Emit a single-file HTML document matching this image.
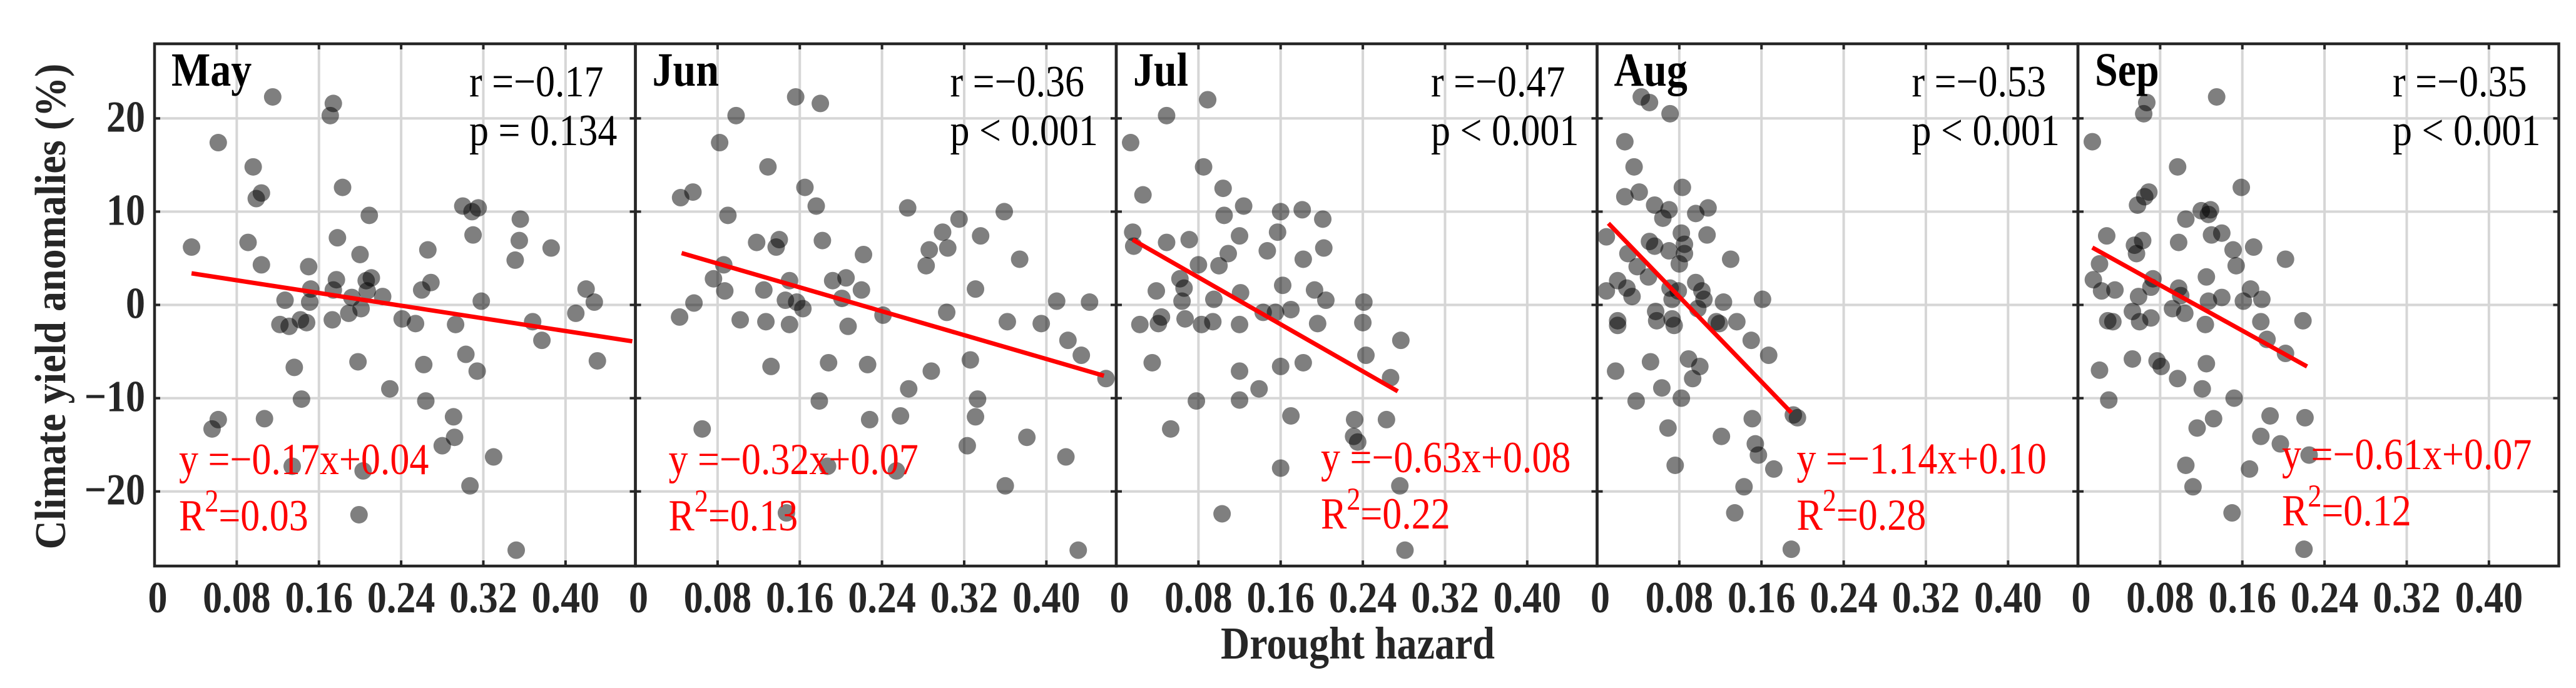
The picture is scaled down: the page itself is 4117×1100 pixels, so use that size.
<!DOCTYPE html>
<html><head><meta charset="utf-8"><style>
html,body{margin:0;padding:0;background:#fff;}
svg{display:block;font-family:"Liberation Serif","Times New Roman",serif;}
</style></head><body>
<svg id="chart" width="4117" height="1100" viewBox="0 0 4117 1100" xmlns="http://www.w3.org/2000/svg">
<rect width="4117" height="1100" fill="#fff"/>
<g id="grids"></g><g id="marks"></g><g id="frames"></g><g id="labels"></g>
<text x="0" y="0" transform="translate(104,490) rotate(-90) scale(1,1.1)" text-anchor="middle" font-weight="bold" font-size="64" fill="#262626">Climate yield anomalies (%)</text>
<text x="0" y="0" transform="translate(2170,1053) scale(1,1.15)" text-anchor="middle" font-weight="bold" font-size="64" fill="#262626">Drought hazard</text>
</svg>
<script>
const months = ["May","Jun","Jul","Aug","Sep"];
const rTexts = ["r =\u22120.17","r =\u22120.36","r =\u22120.47","r =\u22120.53","r =\u22120.35"];
const pTexts = ["p = 0.134","p < 0.001","p < 0.001","p < 0.001","p < 0.001"];
const slopes = [-0.17,-0.32,-0.63,-1.14,-0.61];
const intercepts = [0.04,0.07,0.08,0.10,0.07];
const r2Texts = ["0.03","0.13","0.22","0.28","0.12"];
const lineStart = [0.036,0.045,0.016,0.011,0.014];
const lineEnd = [0.465,0.456,0.274,0.189,0.223];
const xTicks = [0,0.08,0.16,0.24,0.32,0.40];
const xTickLabels = ["0","0.08","0.16","0.24","0.32","0.40"];
const yTicks = [-20,-10,0,10,20];
const yTickLabels = ["\u221220","\u221210","0","10","20"];

const mayX = [.036,.062,.056,.062,.096,.091,.099,.104,.104,.107,.115,.127,.122,.131,.136,.142,.148,.150,.152,.151,.143,.134,.171,.174,.183,.178,.177,.174,.173,.189,.192,.200,.209,.206,.211,.207,.201,.198,.203,.199,.222,.229,.241,.254,.260,.269,.266,.262,.264,.280,.292,.291,.293,.300,.309,.315,.310,.303,.314,.307,.318,.330,.351,.355,.356,.352,.368,.377,.386,.410,.420,.428,.431];
const mayY = [6.2,17.4,-13.3,-12.3,14.8,6.7,11.4,12,4.3,-12.2,22.3,0.5,-2.1,-2.3,-6.7,-1.6,-1.9,4.1,1.7,0.3,-10.1,-17.3,20.3,21.6,12.6,7.2,2.7,1.6,-1.6,-0.9,0.8,5.4,9.6,2.6,2.9,1.5,-0.4,-6.1,-17.8,-22.5,0.9,-9,-1.5,-2,1.6,2.4,5.9,-6.4,-10.3,-15.1,-14.2,-12,-2.1,10.6,10,10.4,7.5,-5.3,-7.1,-19.4,0.4,-16.3,4.8,6.9,9.2,-26.3,-1.8,-3.8,6.1,-0.9,1.7,0.3,-6];
const junX = [.044,.056,.043,.057,.065,.082,.098,.090,.076,.087,.086,.102,.118,.129,.125,.127,.132,.140,.137,.156,.150,.146,.150,.157,.163,.165,.176,.180,.182,.179,.188,.192,.201,.205,.207,.220,.222,.187,.147,.226,.228,.241,.254,.258,.265,.266,.283,.286,.288,.299,.304,.303,.315,.323,.326,.331,.331,.333,.336,.359,.360,.362,.374,.381,.395,.410,.419,.421,.434,.431,.442,.458];
const junY = [11.5,12.1,-1.3,0.2,-13.3,17.4,20.3,9.6,2.8,1.5,4.3,-1.6,6.7,14.8,1.6,-1.8,-6.6,7,6.2,22.3,2.6,0.5,-2.1,0.3,-0.4,12.6,10.6,21.6,6.9,-10.3,-6.2,2.6,0.7,2.9,-2.3,1.6,5.4,-17.3,-22.3,-6.4,-12.3,-1.1,-17.8,-11.9,10.4,-9,4.2,5.9,-7.1,7.8,6.1,-0.8,9.2,-15.1,-5.9,1.7,-12,-10.1,7.4,10,-19.4,-1.8,4.9,-14.2,-2,0.4,-16.3,-3.8,-5.4,-26.3,0.3,-7.9];
const julX = [.014,.026,.016,.017,.023,.035,.041,.044,.049,.039,.049,.053,.062,.066,.064,.067,.071,.078,.080,.083,.085,.089,.095,.094,.100,.104,.105,.109,.120,.121,.120,.120,.120,.124,.103,.139,.143,.147,.155,.157,.160,.162,.160,.170,.170,.160,.181,.182,.182,.193,.196,.201,.202,.204,.232,.231,.235,.241,.240,.243,.263,.267,.276,.277,.281];
const julY = [17.4,11.8,7.8,6.3,-2.1,-6.2,-2,-1.3,6.7,1.5,20.3,-13.3,2.8,1.8,0.4,-1.5,7,-10.3,4.3,-2.1,14.8,22,0.6,-1.8,4.2,12.5,9.6,5.5,7.4,1.3,-2.1,-7.1,-10.2,10.6,-22.4,-9,-0.8,5.8,-0.8,7.8,10,2.1,-6.6,-0.5,-11.9,-17.5,10.2,4.9,-6.2,1.6,-2,9.2,6.1,0.5,-12.3,-14.1,-14.7,0.3,-1.9,-5.4,-12.3,-7.8,-19.4,-3.8,-26.3];
const augX = [.043,.051,.071,.027,.036,.027,.041,.083,.056,.070,.064,.096,.108,.009,.082,.107,.051,.056,.070,.085,.085,.030,.080,.130,.039,.050,.009,.020,.029,.034,.071,.079,.073,.096,.102,.104,.098,.123,.161,.020,.020,.057,.058,.073,.075,.116,.119,.136,.150,.167,.052,.018,.089,.100,.093,.063,.082,.038,.069,.151,.191,.195,.121,.154,.157,.172,.076,.143,.134,.189];
const augY = [22.3,21.7,20.5,17.5,14.8,11.6,12.1,12.6,10.7,10.2,9.3,9.8,10.4,7.3,7.7,7.5,6.8,6.3,5.8,6.5,5.5,5.5,4.4,4.9,4.1,3,1.5,2.6,1.8,0.9,1.8,1.5,0.6,2.4,1.5,0.6,-0.4,0.3,0.6,-1.7,-2.2,-0.7,-1.7,-1.5,-2.2,-1.8,-2,-1.8,-3.8,-5.4,-6.1,-7.1,-5.8,-6.6,-7.9,-8.9,-10,-10.3,-13.2,-12.2,-11.8,-12.1,-14.1,-14.9,-16.1,-17.6,-17.2,-19.5,-22.3,-26.2];
const sepX = [.135,.067,.064,.014,.097,.159,.069,.065,.058,.120,.129,.127,.105,.028,.063,.055,.057,.098,.130,.140,.151,.171,.202,.154,.021,.015,.023,.036,.073,.071,.059,.098,.100,.125,.127,.140,.168,.161,.179,.053,.092,.104,.029,.034,.060,.071,.124,.178,.219,.184,.202,.021,.053,.077,.081,.097,.125,.121,.030,.152,.132,.116,.187,.221,.178,.197,.225,.105,.167,.112,.150,.220];
const sepY = [22.3,21.7,20.5,17.5,14.8,12.6,12.1,11.6,10.7,10.1,10.2,9.7,9.2,7.4,6.9,6.4,5.5,6.7,7.5,7.7,5.9,6.2,4.9,4.2,4.4,2.7,1.5,1.6,2.8,1.9,0.9,1.8,1,3,0.4,0.8,1.7,0.4,0.6,-0.7,-0.4,-0.9,-1.7,-1.8,-1.8,-1.4,-2.1,-1.8,-1.7,-3.7,-5.2,-7,-5.8,-6,-6.6,-7.9,-6.3,-9,-10.2,-10,-12.2,-13.2,-11.9,-12.1,-14.1,-14.9,-16.1,-17.2,-17.6,-19.5,-22.3,-26.2];
const seriesX = [mayX,junX,julX,augX,sepX];
const seriesY = [mayY,junY,julY,augY,sepY];

const NS="http://www.w3.org/2000/svg";
const P0=247, PW=768.5, TOP=70, BOT=905, XMAX=0.468, YMIN=-28, YMAX=28;
const redOffX=[39,53,327,319,326], redBase=[758,758,755,757,750];
function xs(i,v){return P0+i*PW+v/XMAX*PW;}
function ys(v){return BOT-(v-YMIN)/(YMAX-YMIN)*(BOT-TOP);}
function mk(tag,attrs,parent){const e=document.createElementNS(NS,tag);for(const k in attrs)e.setAttribute(k,attrs[k]);parent.appendChild(e);return e;}
const G=document.getElementById('grids'),M=document.getElementById('marks'),F=document.getElementById('frames'),L=document.getElementById('labels');
for(let i=0;i<5;i++){
  const left=P0+i*PW,right=left+PW;
  for(const t of xTicks){ if(t===0)continue; const x=xs(i,t);
    const g=mk('line',{x1:x,x2:x,y1:TOP,y2:BOT,stroke:'#d6d6d6','stroke-width':4},G);
    
    
    mk('line',{x1:x,x2:x,y1:TOP,y2:TOP+9,stroke:'#262626','stroke-width':4},F);
    mk('line',{x1:x,x2:x,y1:BOT,y2:BOT-9,stroke:'#262626','stroke-width':4},F);
  }
  for(const t of yTicks){const y=ys(t);
    const g=mk('line',{x1:left,x2:right,y1:y,y2:y,stroke:'#d6d6d6','stroke-width':4},G);
    
    
    mk('line',{x1:left,x2:left+9,y1:y,y2:y,stroke:'#262626','stroke-width':4},F);
    mk('line',{x1:right,x2:right-9,y1:y,y2:y,stroke:'#262626','stroke-width':4},F);
  }
  const fr=mk('rect',{x:left,y:TOP,width:PW,height:BOT-TOP,fill:'none',stroke:'#262626','stroke-width':4.5},F);
  
  
  const X=seriesX[i],Y=seriesY[i];
  for(let k=0;k<X.length;k++){
    const c=mk('circle',{cx:xs(i,X[k]),cy:ys(Y[k]),r:14,fill:'#000','fill-opacity':0.5},M);
    
    
  }
  const f=v=>(slopes[i]*v+intercepts[i])*100;
  const ln=mk('line',{x1:xs(i,lineStart[i]),y1:ys(f(lineStart[i])),x2:xs(i,lineEnd[i]),y2:ys(f(lineEnd[i])),stroke:'#ff0000','stroke-width':7},M);
  
  
  xTicks.forEach((t,j)=>{
    const tl=mk('text',{x:xs(i,t)+(t===0?5:0),y:979,'text-anchor':'middle','font-weight':'bold','font-size':62,fill:'#262626'},L);
    tl.textContent=xTickLabels[j];
    
    
  });
  const mt=mk('text',{x:left+27,y:137,'font-weight':'bold','font-size':66,fill:'#000'},L);
  mt.textContent=months[i];
  
  
  const rt=mk('text',{x:left+503,y:154,'font-size':62,fill:'#000'},L);
  rt.textContent=rTexts[i];
  
  
  const pt=mk('text',{x:left+503,y:232,'font-size':62,fill:'#000'},L);
  pt.textContent=pTexts[i];
  
  
  const eq=mk('text',{x:left+redOffX[i],y:redBase[i],'font-size':62,fill:'#ff0000'},L);
  eq.textContent='y =\u2212'+Math.abs(slopes[i]).toFixed(2)+'x+'+intercepts[i].toFixed(2);
  
  
  const r2=mk('text',{x:left+redOffX[i],y:redBase[i]+90,'font-size':62,fill:'#ff0000'},L);
  r2.innerHTML='R<tspan dy="-26" font-size="44">2</tspan><tspan dy="26">='+r2Texts[i]+'</tspan>';
  
  
}
yTicks.forEach((t,j)=>{
  const tl=mk('text',{x:232,y:ys(t)+21,'text-anchor':'end','font-weight':'bold','font-size':62,fill:'#262626'},L);
  tl.textContent=yTickLabels[j];
  
  
});
// stretch label text vertically to match the reference's taller glyphs
for(const t of L.querySelectorAll('text')){
  const x=t.getAttribute('x'),y=t.getAttribute('y');
  t.setAttribute('x',0);t.setAttribute('y',0);
  t.setAttribute('transform','translate('+x+','+y+') scale(1,1.15)');
}
</script>
</body></html>
